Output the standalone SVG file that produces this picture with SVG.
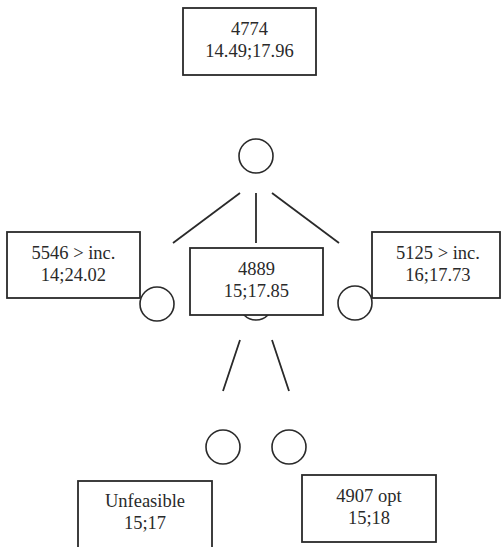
<svg xmlns="http://www.w3.org/2000/svg" width="501" height="547" viewBox="0 0 501 547">
<style>
.box{fill:#fff;stroke:#2a2a2a;stroke-width:1.8}
.nd{fill:#fff;stroke:#2a2a2a;stroke-width:1.6}
.ln{stroke:#2a2a2a;stroke-width:1.8;fill:none}
.t{font-family:'Liberation Serif','DejaVu Serif',serif;font-size:18.5px;fill:#2a2a2a;text-anchor:middle}
</style>
<rect width="501" height="547" fill="#fff"/>
<g id="connectors">
<line class="ln" x1="240" y1="193" x2="173" y2="243"/>
<line class="ln" x1="256" y1="193" x2="256" y2="243"/>
<line class="ln" x1="272" y1="193" x2="339" y2="243"/>
<line class="ln" x1="240" y1="340" x2="223" y2="391"/>
<line class="ln" x1="272" y1="340" x2="289" y2="391"/>
</g>
<g id="root-label">
<rect class="box" x="183" y="8" width="133" height="67"/>
<text class="t" font-family="Liberation Serif, serif" x="249.5" y="34.5">4774</text>
<text class="t" font-family="Liberation Serif, serif" x="249.5" y="57">14.49;17.96</text>
</g>
<g id="root"><circle class="nd" cx="256" cy="156" r="17"/></g>
<g id="left">
<rect class="box" x="7" y="232" width="133" height="66"/>
<text class="t" font-family="Liberation Serif, serif" x="73.5" y="258.5">5546 &gt; inc.</text>
<text class="t" font-family="Liberation Serif, serif" x="73.5" y="280.5">14;24.02</text>
<circle class="nd" cx="157" cy="304" r="17"/>
</g>
<g id="middle">
<circle class="nd" cx="256" cy="303" r="17"/>
<rect class="box" x="190" y="248" width="133" height="67"/>
<text class="t" font-family="Liberation Serif, serif" x="256.5" y="274.5">4889</text>
<text class="t" font-family="Liberation Serif, serif" x="256.5" y="296.5">15;17.85</text>
</g>
<g id="right">
<rect class="box" x="372" y="232" width="128" height="66"/>
<text class="t" font-family="Liberation Serif, serif" x="438" y="258.5">5125 &gt; inc.</text>
<text class="t" font-family="Liberation Serif, serif" x="438" y="280.5">16;17.73</text>
<circle class="nd" cx="355" cy="303" r="17"/>
</g>
<g id="bottom-left">
<circle class="nd" cx="223" cy="447" r="17"/>
<rect class="box" x="78" y="481" width="134" height="70"/>
<text class="t" font-family="Liberation Serif, serif" x="145" y="507">Unfeasible</text>
<text class="t" font-family="Liberation Serif, serif" x="145" y="529">15;17</text>
</g>
<g id="bottom-right">
<circle class="nd" cx="289" cy="447" r="17"/>
<rect class="box" x="302" y="475" width="134" height="67"/>
<text class="t" font-family="Liberation Serif, serif" x="369" y="502">4907 opt</text>
<text class="t" font-family="Liberation Serif, serif" x="369" y="524">15;18</text>
</g>
</svg>
